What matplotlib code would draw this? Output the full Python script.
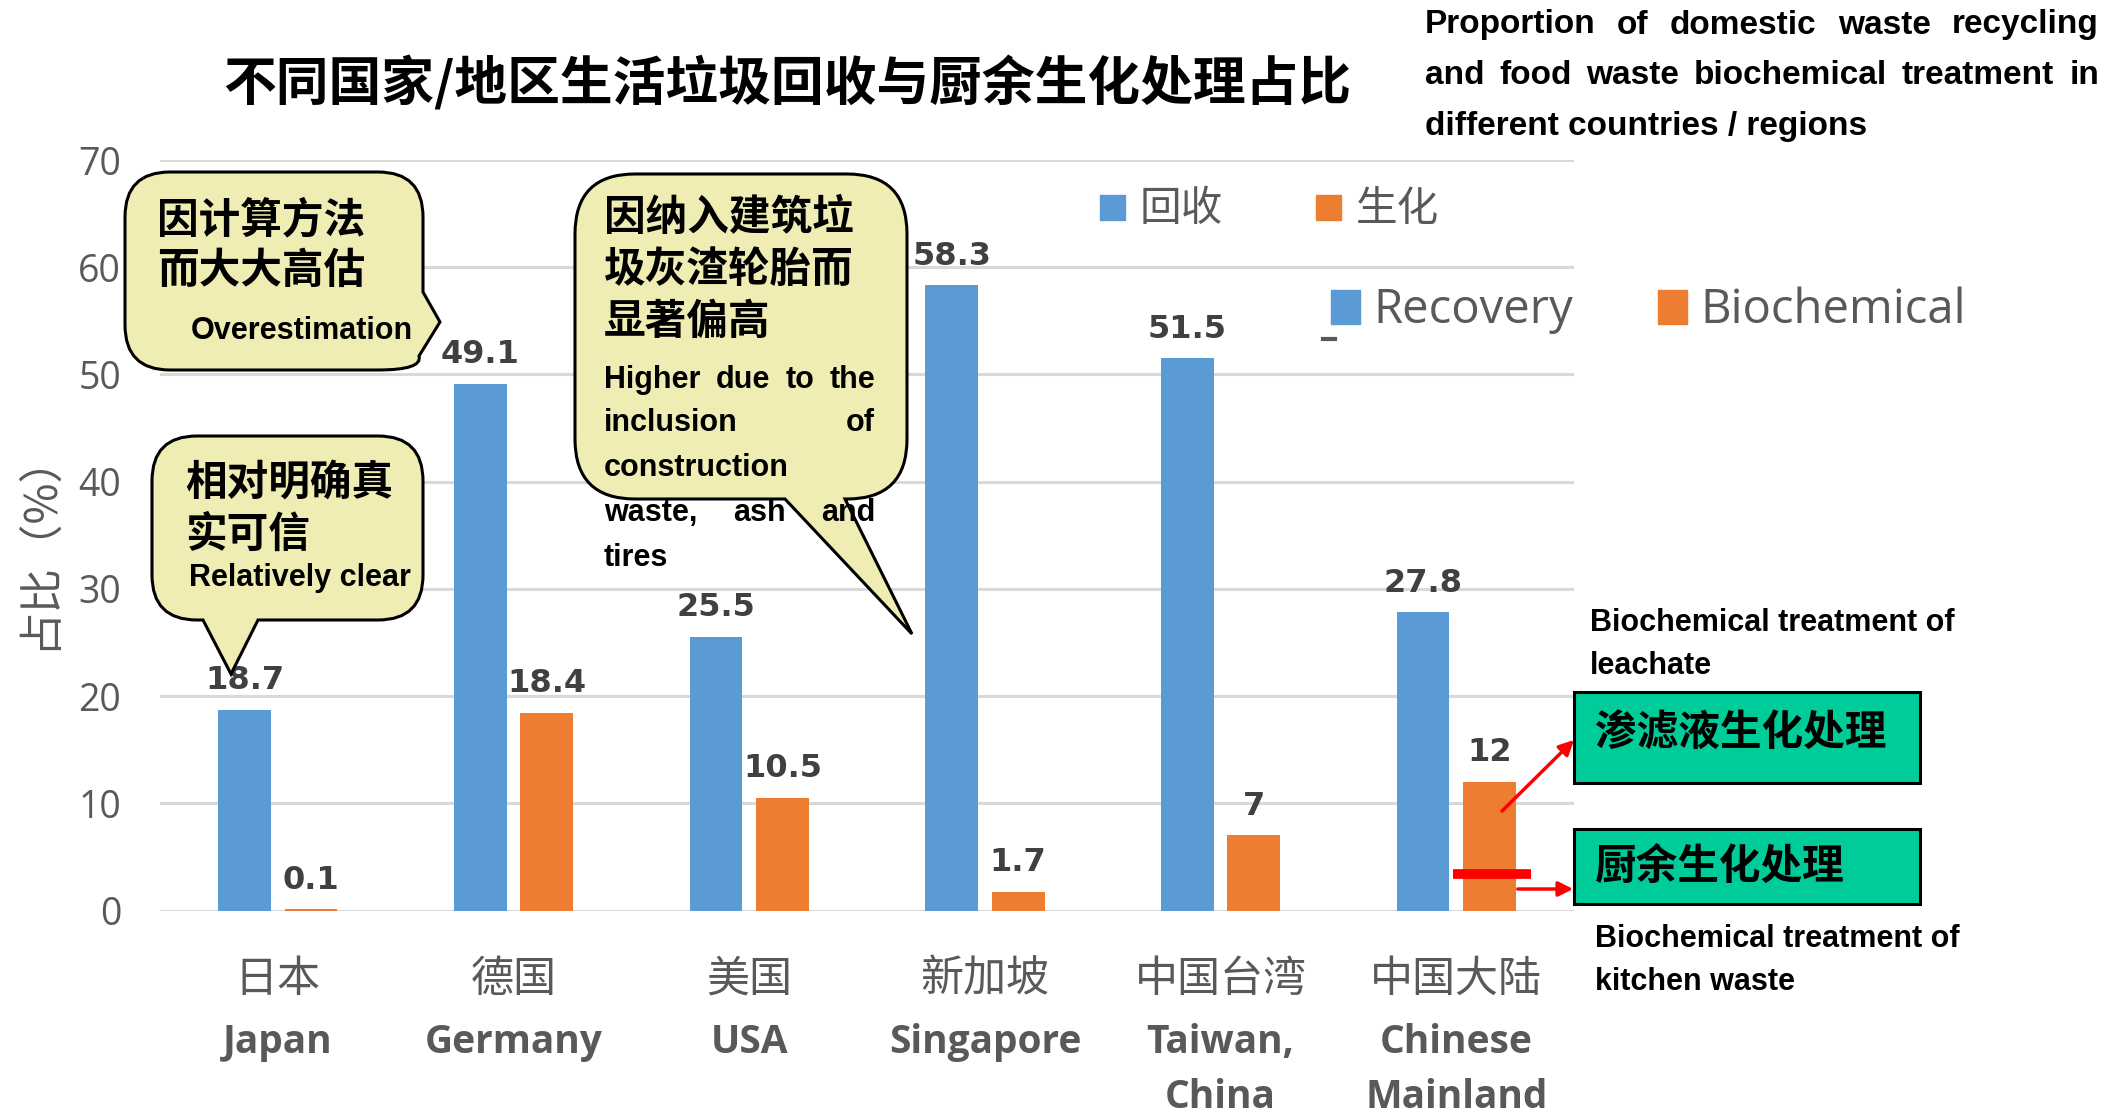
import matplotlib
matplotlib.use("Agg")
import matplotlib.pyplot as plt
from matplotlib.path import Path
from matplotlib.patches import PathPatch, Rectangle

# --- DATA ---
regions_cn = ['日本', '德国', '美国', '新加坡', '中国台湾', '中国大陆']
regions_en = ['Japan', 'Germany', 'USA', 'Singapore', 'Taiwan,\nChina', 'Chinese\nMainland']
recovery = [18.7, 49.1, 25.5, 58.3, 51.5, 27.8]
biochem = [0.1, 18.4, 10.5, 1.7, 7, 12]
kitchen_share_mainland = 3.4   # part of the mainland biochem bar that is kitchen waste
y_ticks = [0, 10, 20, 30, 40, 50, 60, 70]

# --- STYLE ---
BLUE = '#5B9BD5'
ORANGE = '#ED7D31'
GRID = '#D9D9D9'
GRAY = '#595959'
LABEL = '#404040'
YELLOW = '#EFEDB4'
GREEN = '#00CC99'
CJK = ['Noto Sans CJK SC', 'DejaVu Sans']
NARROW = ['Liberation Sans Narrow', 'Liberation Sans']
W, H = 2128, 1113

fig = plt.figure(figsize=(W / 100, H / 100), dpi=100)
ax = fig.add_axes([0.0752, 0.1819, 0.6645, 0.6743])

x = list(range(len(regions_cn)))
bw, off = 0.224, 0.141
bars_r = ax.bar([i - off for i in x], recovery, bw, color=BLUE)
bars_b = ax.bar([i + off for i in x], biochem, bw, color=ORANGE)

for bars, vals in [(bars_r, recovery), (bars_b, biochem)]:
    for b, v in zip(bars, vals):
        ax.annotate(f'{v:g}', (b.get_x() + b.get_width() / 2, v), xytext=(0, 10),
                    textcoords='offset points', ha='center', va='bottom',
                    fontsize=23, fontweight='bold', color=LABEL, family='DejaVu Sans')

# red marker inside the mainland biochem bar
mx = x[-1] + off
ax.plot([mx - 0.155, mx + 0.175], [kitchen_share_mainland] * 2, color='red', lw=7,
        solid_capstyle='butt', clip_on=False, zorder=4)

ax.set_xlim(-0.5, len(x) - 0.5)
ax.set_ylim(0, 70)
ax.set_yticks(y_ticks)
ax.set_xticks([])
ax.tick_params(axis='y', length=0, pad=28, labelsize=27, labelcolor=GRAY)
for lab in ax.get_yticklabels():
    lab.set_family('Open Sans')
ax.yaxis.grid(True, color=GRID, lw=2.2)
ax.set_axisbelow(True)
for s in ax.spines.values():
    s.set_visible(False)

# two-language category labels under the axis
tr = ax.get_xaxis_transform()
for i, (cn, en) in enumerate(zip(regions_cn, regions_en)):
    ax.text(i, -0.092, cn, transform=tr, ha='center', va='center', fontsize=31,
            color=GRAY, family=CJK)
    for k, line in enumerate(en.split('\n')):
        ax.text(i, -0.176 - 0.073 * k, line, transform=tr, ha='center', va='center',
                fontsize=28, fontweight='bold', color=GRAY, family='Open Sans')

# --- OVERLAY IN PIXELS (y down) ---
ov = fig.add_axes([0, 0, 1, 1], zorder=5)
ov.set_xlim(0, W)
ov.set_ylim(H, 0)
ov.axis('off')
ov.patch.set_alpha(0)
renderer = fig.canvas.get_renderer()


def callout(x0, y0, x1, y1, r, side, wedge):
    verts, codes = [], []

    def line(p):
        verts.append(p); codes.append(Path.LINETO)

    def curve(c, p):
        verts.extend([c, p]); codes.extend([Path.CURVE3, Path.CURVE3])

    verts.append((x0 + r, y0)); codes.append(Path.MOVETO)
    line((x1 - r, y0))
    curve((x1, y0), (x1, y0 + r))
    if side == 'right':
        for p in wedge:
            line(p)
        if wedge[-1][1] < y1 - r:
            line((x1, y1 - r))
    else:
        line((x1, y1 - r))
    curve((x1, y1), (x1 - r, y1))
    if side == 'bottom':
        for p in wedge:
            line(p)
    line((x0 + r, y1))
    curve((x0, y1), (x0, y1 - r))
    line((x0, y0 + r))
    curve((x0, y0), (x0 + r, y0))
    verts.append((x0 + r, y0)); codes.append(Path.CLOSEPOLY)
    ov.add_patch(PathPatch(Path(verts, codes), facecolor=YELLOW, edgecolor='black', lw=2.2))


def justified(x0, y, words, width, **kw):
    arts = [ov.text(0, y, w, ha='left', va='center', **kw) for w in words]
    widths = [a.get_window_extent(renderer).width for a in arts]
    gap = (width - sum(widths)) / max(len(words) - 1, 1)
    cx = x0
    for a, w in zip(arts, widths):
        a.set_x(cx)
        cx += w + gap


cn_kw = dict(fontsize=30, fontweight='bold', color='black', family=CJK)
en_kw = dict(fontsize=22, fontweight='bold', color='black', family=NARROW)

# callout: overestimated
callout(125, 172, 423, 370, 45, 'right', [(423, 292), (440, 322), (419, 356)])
ov.text(157, 220, '因计算方法', va='center', **cn_kw)
ov.text(157, 271, '而大大高估', va='center', **cn_kw)
ov.text(191, 331, 'Overestimation', va='center', **en_kw)

# callout: reliable
callout(152, 436, 423, 620, 45, 'bottom', [(258, 620), (231, 674), (203, 620)])
ov.text(185, 483, '相对明确真', va='center', **cn_kw)
ov.text(185, 535, '实可信', va='center', **cn_kw)
ov.text(189, 578, 'Relatively clear', va='center', **en_kw)

# callout: construction waste included
callout(575, 174, 907, 499, 60, 'bottom', [(845, 499), (912, 634), (785, 499)])
for k, s in enumerate(['因纳入建筑垃', '圾灰渣轮胎而', '显著偏高']):
    ov.text(604, 218 + 52 * k, s, va='center', **cn_kw)
justified(604, 380, ['Higher', 'due', 'to', 'the'], 271, **en_kw)
justified(604, 423, ['inclusion', 'of'], 271, **en_kw)
ov.text(604, 468, 'construction', va='center', **en_kw)
justified(604, 513, ['waste,', 'ash', 'and'], 271, **en_kw)
ov.text(604, 558, 'tires', va='center', **en_kw)

# titles
ov.text(787, 84, '不同国家/地区生活垃圾回收与厨余生化处理占比', ha='center', va='center',
        fontsize=38, fontweight='bold', color='black', family=CJK)
t_kw = dict(fontsize=24, fontweight='bold', color='black', family=NARROW)
justified(1425, 25, 'Proportion of domestic waste recycling'.split(), 674, **t_kw)
justified(1425, 76, 'and food waste biochemical treatment in'.split(), 674, **t_kw)
ov.text(1425, 127, 'different countries / regions', va='center', **t_kw)

# y label
ov.text(38, 540, '占比（%）', rotation=90, ha='center', va='center', fontsize=32,
        color=GRAY, family=CJK)

# legends (Chinese and English)
for px, col, name in [(1100, BLUE, '回收'), (1316, ORANGE, '生化')]:
    ov.add_patch(Rectangle((px, 195), 25, 25, color=col))
    ov.text(px + 40, 209, name, va='center', fontsize=30, color=GRAY, family=CJK)
for px, col, name in [(1331, BLUE, 'Recovery'), (1658, ORANGE, 'Biochemical')]:
    ov.add_patch(Rectangle((px, 290), 29, 34, color=col))
    ov.text(px + 42, 310, name, va='center', fontsize=34, color=GRAY, family='Open Sans')
ov.plot([1323, 1335], [339, 339], color=GRAY, lw=3)

# treatment boxes and arrows
for y0, y1, dy, s in [(692, 783, -4, '渗滤液生化处理'), (829, 904, 0, '厨余生化处理')]:
    ov.add_patch(Rectangle((1574, y0), 346, y1 - y0, facecolor=GREEN, edgecolor='black', lw=2.2))
    ov.text(1595, (y0 + y1) / 2 + dy, s, va='center', **cn_kw)
ov.annotate('', xy=(1576, 738), xytext=(1500, 813),
            arrowprops=dict(arrowstyle='-|>', color='red', lw=2.5, mutation_scale=22))
ov.annotate('', xy=(1576, 889), xytext=(1515, 889),
            arrowprops=dict(arrowstyle='-|>', color='red', lw=2.5, mutation_scale=22))
ov.text(1590, 623, 'Biochemical treatment of', va='center', **en_kw)
ov.text(1590, 666, 'leachate', va='center', **en_kw)
ov.text(1595, 939, 'Biochemical treatment of', va='center', **en_kw)
ov.text(1595, 982, 'kitchen waste', va='center', **en_kw)

fig.savefig('out.png', dpi=100)
